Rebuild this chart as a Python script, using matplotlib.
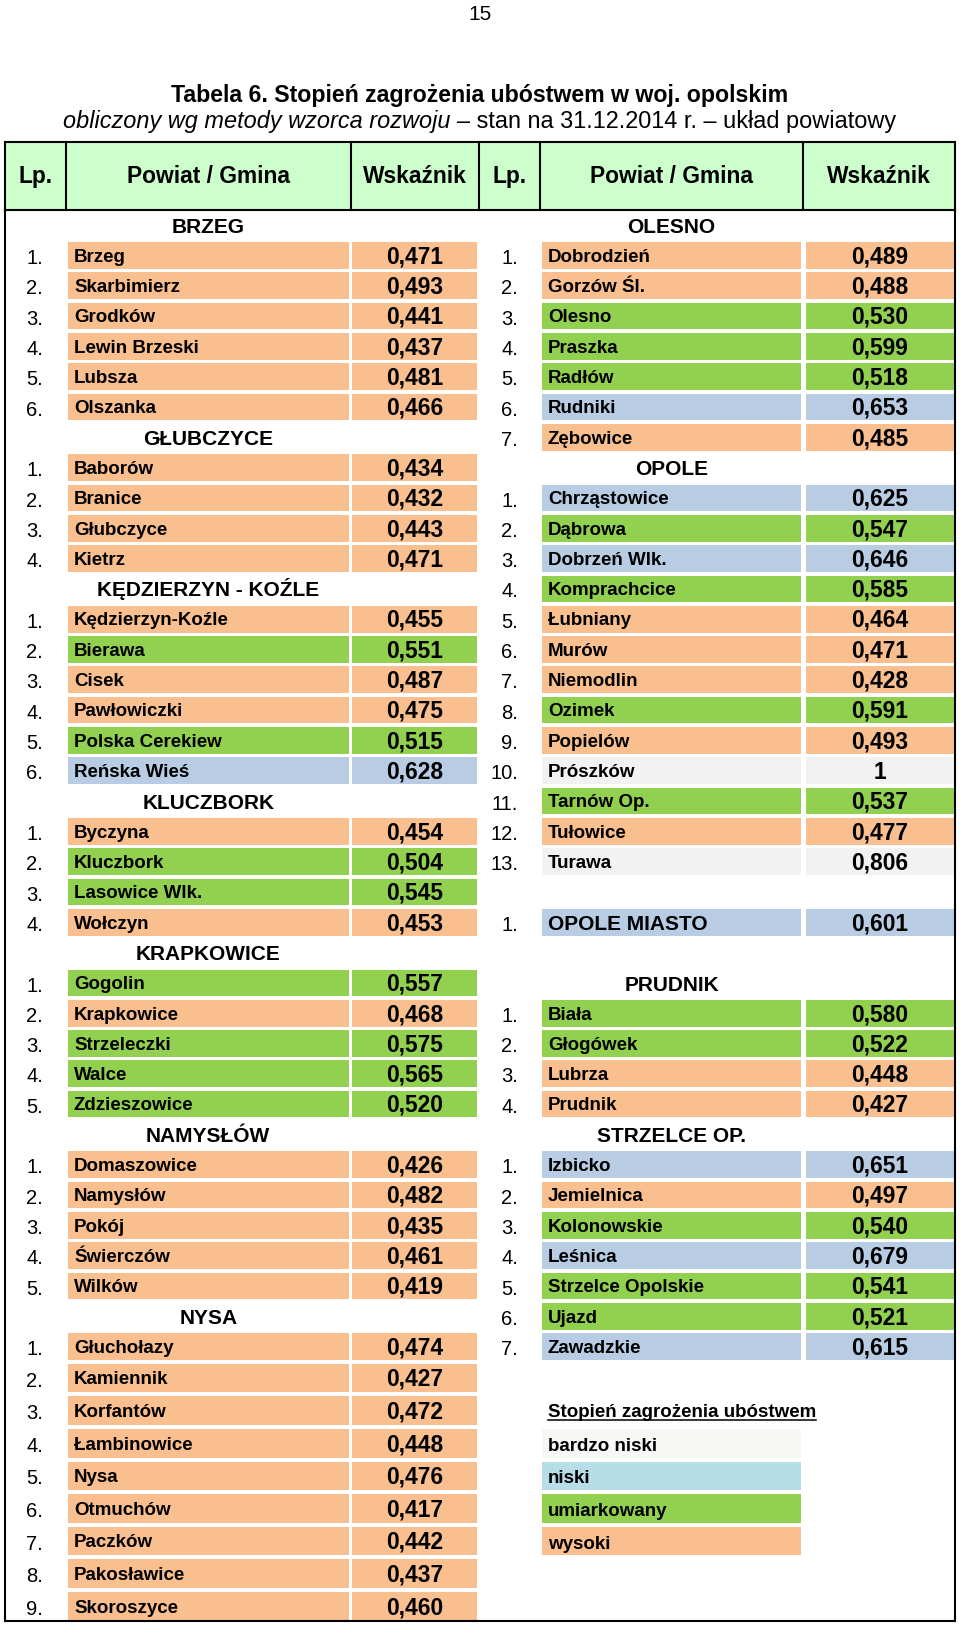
import matplotlib
matplotlib.use("Agg")
import matplotlib.pyplot as plt
from matplotlib.patches import Rectangle
import numpy as np

plt.rcParams['font.family'] = ['Liberation Sans', 'DejaVu Sans']

# ---------------- data ----------------
page_number = "15"
title = "Tabela 6. Stopień zagrożenia ubóstwem w woj. opolskim"
subtitle_italic = "obliczony wg metody wzorca rozwoju"
subtitle_rest = "– stan na 31.12.2014 r. – układ powiatowy"
header_labels = ["Lp.", "Powiat / Gmina", "Wskaźnik"]

brzeg_names = ["Brzeg", "Skarbimierz", "Grodków", "Lewin Brzeski", "Lubsza", "Olszanka"]
brzeg_values = [0.471, 0.493, 0.441, 0.437, 0.481, 0.466]
glubczyce_names = ["Baborów", "Branice", "Głubczyce", "Kietrz"]
glubczyce_values = [0.434, 0.432, 0.443, 0.471]
kk_names = ["Kędzierzyn-Koźle", "Bierawa", "Cisek", "Pawłowiczki", "Polska Cerekiew", "Reńska Wieś"]
kk_values = [0.455, 0.551, 0.487, 0.475, 0.515, 0.628]
kluczbork_names = ["Byczyna", "Kluczbork", "Lasowice Wlk.", "Wołczyn"]
kluczbork_values = [0.454, 0.504, 0.545, 0.453]
krapkowice_names = ["Gogolin", "Krapkowice", "Strzeleczki", "Walce", "Zdzieszowice"]
krapkowice_values = [0.557, 0.468, 0.575, 0.565, 0.520]
namyslow_names = ["Domaszowice", "Namysłów", "Pokój", "Świerczów", "Wilków"]
namyslow_values = [0.426, 0.482, 0.435, 0.461, 0.419]
nysa_names = ["Głuchołazy", "Kamiennik", "Korfantów", "Łambinowice", "Nysa", "Otmuchów",
              "Paczków", "Pakosławice", "Skoroszyce"]
nysa_values = [0.474, 0.427, 0.472, 0.448, 0.476, 0.417, 0.442, 0.437, 0.460]

olesno_names = ["Dobrodzień", "Gorzów Śl.", "Olesno", "Praszka", "Radłów", "Rudniki", "Zębowice"]
olesno_values = [0.489, 0.488, 0.530, 0.599, 0.518, 0.653, 0.485]
opole_names = ["Chrząstowice", "Dąbrowa", "Dobrzeń Wlk.", "Komprachcice", "Łubniany", "Murów",
               "Niemodlin", "Ozimek", "Popielów", "Prószków", "Tarnów Op.", "Tułowice", "Turawa"]
opole_values = [0.625, 0.547, 0.646, 0.585, 0.464, 0.471, 0.428, 0.591, 0.493, 1, 0.537, 0.477, 0.806]
opole_miasto_name = "OPOLE MIASTO"
opole_miasto_value = 0.601
prudnik_names = ["Biała", "Głogówek", "Lubrza", "Prudnik"]
prudnik_values = [0.580, 0.522, 0.448, 0.427]
strzelce_names = ["Izbicko", "Jemielnica", "Kolonowskie", "Leśnica", "Strzelce Opolskie", "Ujazd", "Zawadzkie"]
strzelce_values = [0.651, 0.497, 0.540, 0.679, 0.541, 0.521, 0.615]

left_powiats = [("BRZEG", brzeg_names, brzeg_values),
                ("GŁUBCZYCE", glubczyce_names, glubczyce_values),
                ("KĘDZIERZYN - KOŹLE", kk_names, kk_values),
                ("KLUCZBORK", kluczbork_names, kluczbork_values),
                ("KRAPKOWICE", krapkowice_names, krapkowice_values),
                ("NAMYSŁÓW", namyslow_names, namyslow_values),
                ("NYSA", nysa_names, nysa_values)]

legend_title = "Stopień zagrożenia ubóstwem"
legend_labels = ["bardzo niski", "niski", "umiarkowany", "wysoki"]
# class limits of the index: < 0.5 wysoki, < 0.6 umiarkowany, < 0.7 niski, else bardzo niski
class_limits = [0.5, 0.6, 0.7]

# ---------------- styles ----------------
cell_colors = ["#FABF8F", "#92D050", "#B8CCE4", "#F2F2F2"]  # wysoki, umiark., niski, b. niski
legend_colors = ["#F7F7F5", "#B7DEE8", "#92D050", "#FABF8F"]
header_bg = "#CCFFCC"


def fmt(v):
    if v == 1:
        return "1"
    return f"{v:.3f}".replace(".", ",")


def color_of(v):
    return cell_colors[int(np.digitize(v, class_limits))]


# ---------------- line structure ----------------
left_lines = []
for pname, names, vals in left_powiats:
    left_lines.append(("section", pname))
    for i, (n, v) in enumerate(zip(names, vals)):
        left_lines.append(("row", i + 1, n, v))

right_lines = []
for pname, names, vals in [("OLESNO", olesno_names, olesno_values),
                           ("OPOLE", opole_names, opole_values)]:
    right_lines.append(("section", pname))
    for i, (n, v) in enumerate(zip(names, vals)):
        right_lines.append(("row", i + 1, n, v))
right_lines.append(("blank",))
right_lines.append(("big", 1, opole_miasto_name, opole_miasto_value))
right_lines.append(("blank",))
for pname, names, vals in [("PRUDNIK", prudnik_names, prudnik_values),
                           ("STRZELCE OP.", strzelce_names, strzelce_values)]:
    right_lines.append(("section", pname))
    for i, (n, v) in enumerate(zip(names, vals)):
        right_lines.append(("row", i + 1, n, v))
right_lines.append(("blank",))
right_lines.append(("legend_title", legend_title))
for lab, col in zip(legend_labels, legend_colors):
    right_lines.append(("legend", lab, col))

n_lines = max(len(left_lines), len(right_lines))
pitches = np.array([30.31] * 38 + [32.6] * (n_lines - 38))
body_top = 210.0
tops = body_top + np.concatenate([[0], np.cumsum(pitches)[:-1]])
centers = tops + pitches / 2
table_bottom = body_top + pitches.sum() - 1.5

# ---------------- figure ----------------
fig = plt.figure(figsize=(9.6, 16.27), dpi=100)
ax = fig.add_axes([0, 0, 1, 1])
ax.set_xlim(0, 960)
ax.set_ylim(1627, 0)
ax.axis("off")

FS_TITLE = 16.7
FS_SUB = 16.9
FS_HEAD = 16.4
FS_SECTION = 15
FS_NAME = 13.5
FS_VALUE = 16.4
FS_LP = 14.5

ax.text(480, 20, page_number, ha="center", va="baseline", fontsize=15)
ax.text(480, 101.7, title, ha="center", va="baseline", fontsize=FS_TITLE, fontweight="bold")

# subtitle with mixed styles
renderer = fig.canvas.get_renderer()
t1 = ax.text(0, 128.3, subtitle_italic, ha="left", va="baseline", fontsize=FS_SUB, style="italic")
t2 = ax.text(0, 128.3, subtitle_rest, ha="left", va="baseline", fontsize=FS_SUB)
tmp_a = ax.text(0, 0, "a a", fontsize=FS_SUB)
tmp_b = ax.text(0, 0, "aa", fontsize=FS_SUB)
space_w = tmp_a.get_window_extent(renderer).width - tmp_b.get_window_extent(renderer).width
tmp_a.remove()
tmp_b.remove()
w1 = t1.get_window_extent(renderer).width
w2 = t2.get_window_extent(renderer).width
x0 = 480 - (w1 + space_w + w2) / 2
t1.set_x(x0)
t2.set_x(x0 + w1 + space_w)

# header
hx = [5, 65.7, 350.7, 479, 540, 803, 955]
htop, hbot = 141.7, 210.0
ax.add_patch(Rectangle((hx[0], htop), hx[-1] - hx[0], hbot - htop, facecolor=header_bg,
                       edgecolor="none", zorder=1))
for x in hx:
    ax.plot([x, x], [htop, hbot], color="black", lw=1.5, zorder=3, solid_capstyle="projecting")
ax.plot([hx[0], hx[-1]], [htop, htop], color="black", lw=1.5, zorder=3)
ax.plot([hx[0], hx[-1]], [hbot, hbot], color="black", lw=1.5, zorder=3)
for side in (0, 3):
    for j, lab in enumerate(header_labels):
        cx = (hx[side + j] + hx[side + j + 1]) / 2
        ax.text(cx, 183.3, lab, ha="center", va="baseline", fontsize=FS_HEAD, fontweight="bold", zorder=4)

# outer body border
ax.plot([5, 5], [hbot, table_bottom], color="black", lw=1.5, zorder=3)
ax.plot([955, 955], [hbot, table_bottom], color="black", lw=1.5, zorder=3)
ax.plot([5, 955], [table_bottom, table_bottom], color="black", lw=1.5, zorder=3)

cols = [
    dict(lp_right=43, name_cell=(67.7, 348.7), val_cell=(352.0, 476.7), name_x=74, sec_x=208.2),
    dict(lp_right=518, name_cell=(541.7, 801.0), val_cell=(805.7, 954.0), name_x=548, sec_x=671.5),
]


def draw_column(lines, c):
    for k, line in enumerate(lines):
        cy = centers[k]
        p = pitches[k]
        ch = p * 0.88
        ctop = cy - ch / 2
        kind = line[0]
        if kind == "section":
            ax.text(c["sec_x"], cy + 7.6, line[1], ha="center", va="baseline",
                    fontsize=FS_SECTION, fontweight="bold", zorder=4)
        elif kind in ("row", "big"):
            _, lp, name, v = line
            col = color_of(v)
            nx0, nx1 = c["name_cell"]
            vx0, vx1 = c["val_cell"]
            ax.add_patch(Rectangle((nx0, ctop), nx1 - nx0, ch, facecolor=col, edgecolor="none", zorder=1))
            ax.add_patch(Rectangle((vx0, ctop), vx1 - vx0, ch, facecolor=col, edgecolor="none", zorder=1))
            ax.text(c["lp_right"], cy + 8.6, f"{lp}.", ha="right", va="baseline", fontsize=FS_LP, zorder=4)
            if kind == "row":
                ax.text(c["name_x"], cy + 6.3, name, ha="left", va="baseline",
                        fontsize=FS_NAME, fontweight="bold", zorder=4)
            else:
                ax.text(c["name_x"], cy + 7.6, name, ha="left", va="baseline",
                        fontsize=FS_SECTION, fontweight="bold", zorder=4)
            ax.text((vx0 + vx1) / 2, cy + 7.8, fmt(v), ha="center", va="baseline",
                    fontsize=FS_VALUE, fontweight="bold", zorder=4)
        elif kind == "legend_title":
            t = ax.text(c["name_x"], cy + 6.5, line[1], ha="left", va="baseline",
                        fontsize=FS_NAME, fontweight="bold", zorder=4)
            bb = t.get_window_extent(renderer)
            ax.plot([c["name_x"], c["name_x"] + bb.width], [cy + 9.0, cy + 9.0], color="black", lw=1.1, zorder=4)
        elif kind == "legend":
            _, lab, col = line
            nx0, nx1 = c["name_cell"]
            ax.add_patch(Rectangle((nx0, ctop), nx1 - nx0, ch, facecolor=col, edgecolor="none", zorder=1))
            ax.text(c["name_x"], cy + 7.5, lab, ha="left", va="baseline",
                    fontsize=FS_NAME, fontweight="bold", zorder=4)


draw_column(left_lines, cols[0])
draw_column(right_lines, cols[1])

fig.savefig("out.png", dpi=100, facecolor="white")
